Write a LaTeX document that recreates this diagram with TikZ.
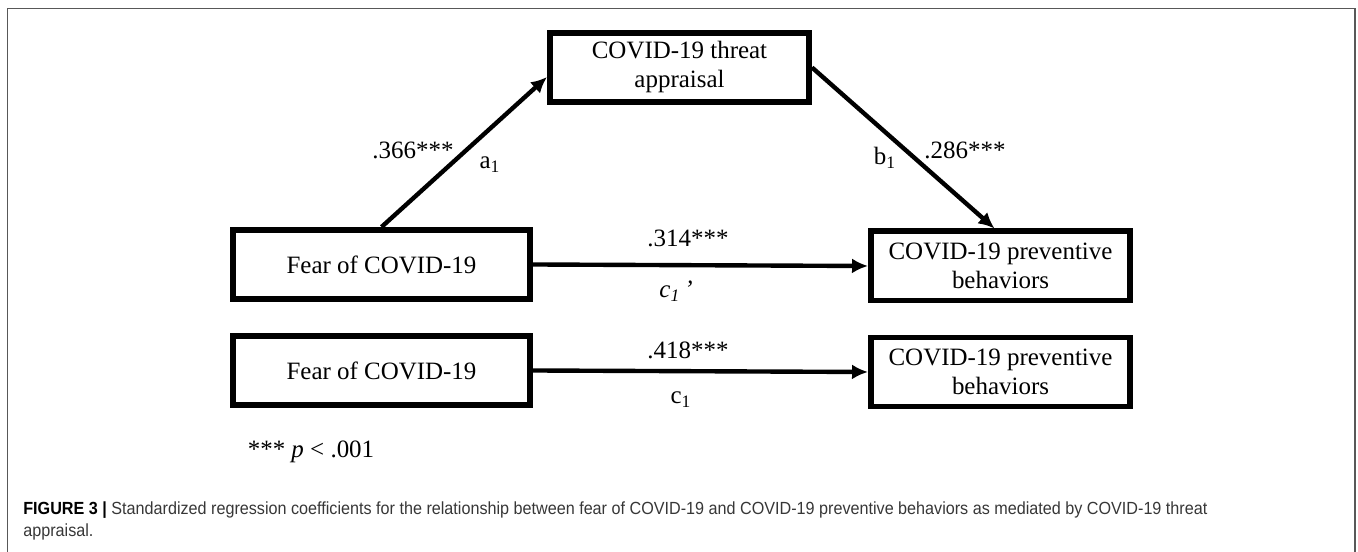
\documentclass[tikz,border=0pt]{standalone}
\usepackage{fontspec}
\setmainfont{Liberation Serif}
\newfontfamily\capfont[FakeStretch=0.92]{Liberation Sans}
\usetikzlibrary{arrows.meta}
\definecolor{framegray}{RGB}{88,88,88}
\definecolor{capgray}{RGB}{55,55,55}

\begin{document}
\begin{tikzpicture}[
        box/.style = {draw, line width=3.4pt, minimum width=5.18cm, minimum height=1.38cm,
                      align=center, inner sep=0pt, font=\fontsize{14.2}{16.5}\selectfont},
        arr/.style = {line width=2.5pt, -{Latex[length=0.32cm, width=0.3cm]}},
        lbl/.style = {inner sep=0pt, font=\fontsize{14.2}{16.5}\selectfont}
    ]
        \useasboundingbox (0,0) rectangle (27.16,11.04);
        \draw[framegray, line width=0.8pt] (0.15,0) -- (0.15,10.87) -- (27.10,10.87) -- (27.10,0);
        % model with mediator
        \node[box] (threat) at (13.59,9.69) {COVID-19 threat\\appraisal};
        \node[box, minimum width=5.94cm] (fear1) at (7.63,5.75) {Fear of COVID-19};
        \node[box] (prev1) at (20.01,5.72) {COVID-19 preventive\\behaviors};
        \draw[arr] (fear1.north) -- ([yshift=-0.19cm]threat.west);
        \draw[arr] (threat.east) -- ([xshift=-0.12cm]prev1.north);
        \draw[arr] (fear1.east) -- (prev1.west);
        \node[lbl] (coefA) at (8.26,8.04) {.366***};
        \node[lbl] (subA) at (9.80,7.74) {a\textsubscript{1}};
        \node[lbl] (subB) at (17.70,7.88) {b\textsubscript{1}};
        \node[lbl] (coefB) at (19.30,8.04) {.286***};
        \node[lbl] (coefC1) at (13.76,6.28) {.314***};
        \node[lbl] (subC1) at (13.52,5.22) {\textit{c\textsubscript{1}\,’}};
        % total effect
        \node[box, minimum width=5.94cm] (fear2) at (7.63,3.63) {Fear of COVID-19};
        \node[box] (prev2) at (20.01,3.60) {COVID-19 preventive\\behaviors};
        \draw[arr] (fear2.east) -- (prev2.west);
        \node[lbl] (coefC) at (13.76,4.04) {.418***};
        \node[lbl] (subC) at (13.62,3.04) {c\textsubscript{1}};
        \node[lbl] (note) at (6.22,2.00) {*** \textit{p} < .001};
        % caption
        \node[anchor=north west, inner sep=0pt, align=left, text=capgray,
              font=\capfont\fontsize{10}{12.5}\selectfont] (caption) at (0.46,1.02)
            {\textcolor{black}{\bfseries FIGURE 3 |} Standardized regression coefficients for the relationship between fear of COVID-19 and COVID-19 preventive behaviors as mediated by COVID-19 threat\\appraisal.};
    \end{tikzpicture}
\end{document}
